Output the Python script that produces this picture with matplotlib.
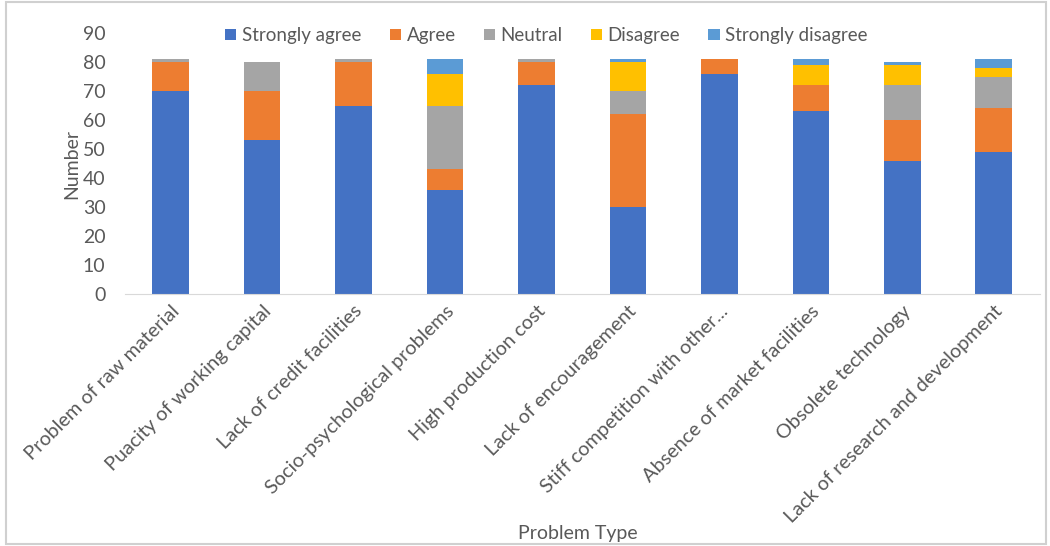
import matplotlib.pyplot as plt
import numpy as np

plt.rcParams['font.family'] = ['Lato', 'DejaVu Sans']

problems = [
    "Problem of raw material",
    "Puacity of working capital",
    "Lack of credit facilities",
    "Socio-psychological problems",
    "High production cost",
    "Lack of encouragement",
    "Stiff competition with other...",
    "Absence of market facilities",
    "Obsolete technology",
    "Lack of research and development",
]

strongly_agree = [70, 53, 65, 36, 72, 30, 76, 63, 46, 49]
agree = [10, 17, 15, 7, 8, 32, 5, 9, 14, 15]
neutral = [1, 10, 1, 22, 1, 8, 0, 0, 12, 11]
disagree = [0, 0, 0, 11, 0, 10, 0, 7, 7, 3]
strongly_disagree = [0, 0, 0, 5, 0, 1, 0, 2, 1, 3]

series = [
    ("Strongly agree", strongly_agree, "#4472c4"),
    ("Agree", agree, "#ed7d31"),
    ("Neutral", neutral, "#a5a5a5"),
    ("Disagree", disagree, "#ffc000"),
    ("Strongly disagree", strongly_disagree, "#5b9bd5"),
]

text_color = "#595959"

fig = plt.figure(figsize=(10.5, 5.46), dpi=100)
ax = fig.add_axes([0.119, 0.4615, 0.871, 0.478])

x = np.arange(len(problems))
bottom = np.zeros(len(problems))
for name, vals, color in series:
    ax.bar(x, vals, 0.4, bottom=bottom, color=color, label=name)
    bottom += np.array(vals)

ax.set_xlim(-0.5, len(problems) - 0.5)
ax.set_ylim(0, 90)
ax.set_yticks(range(0, 91, 10))
ax.set_xticks(x)
ax.set_xticklabels(problems, rotation=45, ha="right", rotation_mode="anchor",
                   fontsize=14.3, color=text_color)
ax.tick_params(axis="y", labelsize=14, labelcolor=text_color, length=0, pad=14)
ax.tick_params(axis="x", length=0, pad=6)

for side in ["top", "right", "left"]:
    ax.spines[side].set_visible(False)
ax.spines["bottom"].set_color("#d9d9d9")

ax.set_ylabel("Number", fontsize=14, color=text_color, labelpad=2)
fig.text(0.55, 0.012, "Problem Type", ha="center", fontsize=14, color=text_color)

ax.legend(loc="center", bbox_to_anchor=(0.461, 0.99), ncol=5, frameon=False,
          fontsize=13.5, handlelength=0.6, handleheight=0.6, handletextpad=0.3,
          columnspacing=1.5, labelcolor=text_color, borderaxespad=0.0)

# chart border
fig.patches.append(plt.Rectangle((0.006, 0.004), 0.99, 0.992, transform=fig.transFigure,
                                 fill=False, edgecolor="#d0d0d0", linewidth=1.5))

fig.savefig("out.png", dpi=100)
